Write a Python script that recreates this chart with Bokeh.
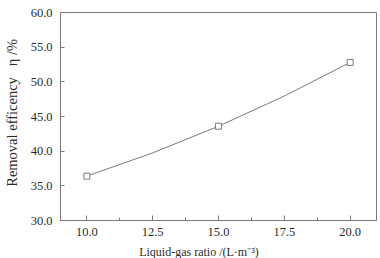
from bokeh.plotting import figure
from bokeh.models import Range1d, FixedTicker, NumeralTickFormatter
from bokeh.embed import file_html
from bokeh.resources import INLINE

# data
liquid_gas_ratio = [10.0, 15.0, 20.0]
removal_efficiency = [36.4, 43.6, 52.8]

x_ticks = [10.0, 12.5, 15.0, 17.5, 20.0]
x_minor_ticks = [11.25, 13.75, 16.25, 18.75]
y_ticks = [30.0, 35.0, 40.0, 45.0, 50.0, 55.0, 60.0]

FONT = "'Liberation Serif', 'Times New Roman', serif"
GRAY = "#7a7a7a"
TXT = "#2a2a2a"

p = figure(width=377, height=256, output_backend="svg", toolbar_location=None,
           x_range=Range1d(9, 21), y_range=Range1d(30, 60),
           min_border_left=57, min_border_right=4, min_border_top=12,
           min_border_bottom=0)
p.frame_width = 316
p.frame_height = 208
p.background_fill_color = "white"
p.border_fill_color = "white"
p.outline_line_color = GRAY
p.outline_line_width = 1
p.grid.visible = False

# smooth curve (parabola through the three points as a quadratic Bezier)
cx = liquid_gas_ratio[1]
cy = 2 * removal_efficiency[1] - 0.5 * (removal_efficiency[0] + removal_efficiency[2])
p.quadratic(x0=[liquid_gas_ratio[0]], y0=[removal_efficiency[0]],
            x1=[liquid_gas_ratio[2]], y1=[removal_efficiency[2]],
            cx=[cx], cy=[cy], line_color=GRAY, line_width=1)
p.scatter(liquid_gas_ratio, removal_efficiency, marker="square", size=6,
          fill_color="white", line_color=GRAY, line_width=1)

xa = p.xaxis[0]
xa.ticker = FixedTicker(ticks=x_ticks, minor_ticks=x_minor_ticks)
xa.formatter = NumeralTickFormatter(format="0.0")
ya = p.yaxis[0]
ya.ticker = FixedTicker(ticks=y_ticks)
ya.formatter = NumeralTickFormatter(format="0.0")

for ax in (xa, ya):
    ax.axis_line_color = GRAY
    ax.major_tick_line_color = GRAY
    ax.minor_tick_line_color = GRAY
    ax.major_tick_in = 5
    ax.major_tick_out = 0
    ax.minor_tick_in = 3
    ax.minor_tick_out = 0
    ax.major_label_text_font = FONT
    ax.major_label_text_font_size = "12.5px"
    ax.major_label_text_color = TXT
    ax.axis_label_text_font = FONT
    ax.axis_label_text_font_style = "normal"
    ax.axis_label_text_color = TXT
ya.minor_tick_line_color = None
ya.major_tick_in = 4
ya.major_label_standoff = 8
xa.major_label_standoff = 7

xa.axis_label = "Liquid-gas ratio /(L\u00b7m\u207b\u00b3)\u2003\u2003\u2003\u00a0"
xa.axis_label_text_font_size = "12px"
xa.axis_label_standoff = 6

ya.axis_label = "\u2002Removal efficency\u2002 \u03b7 /%"
ya.axis_label_text_font_size = "14.5px"
ya.axis_label_standoff = 8

open("out.html", "w").write(file_html(p, INLINE))
